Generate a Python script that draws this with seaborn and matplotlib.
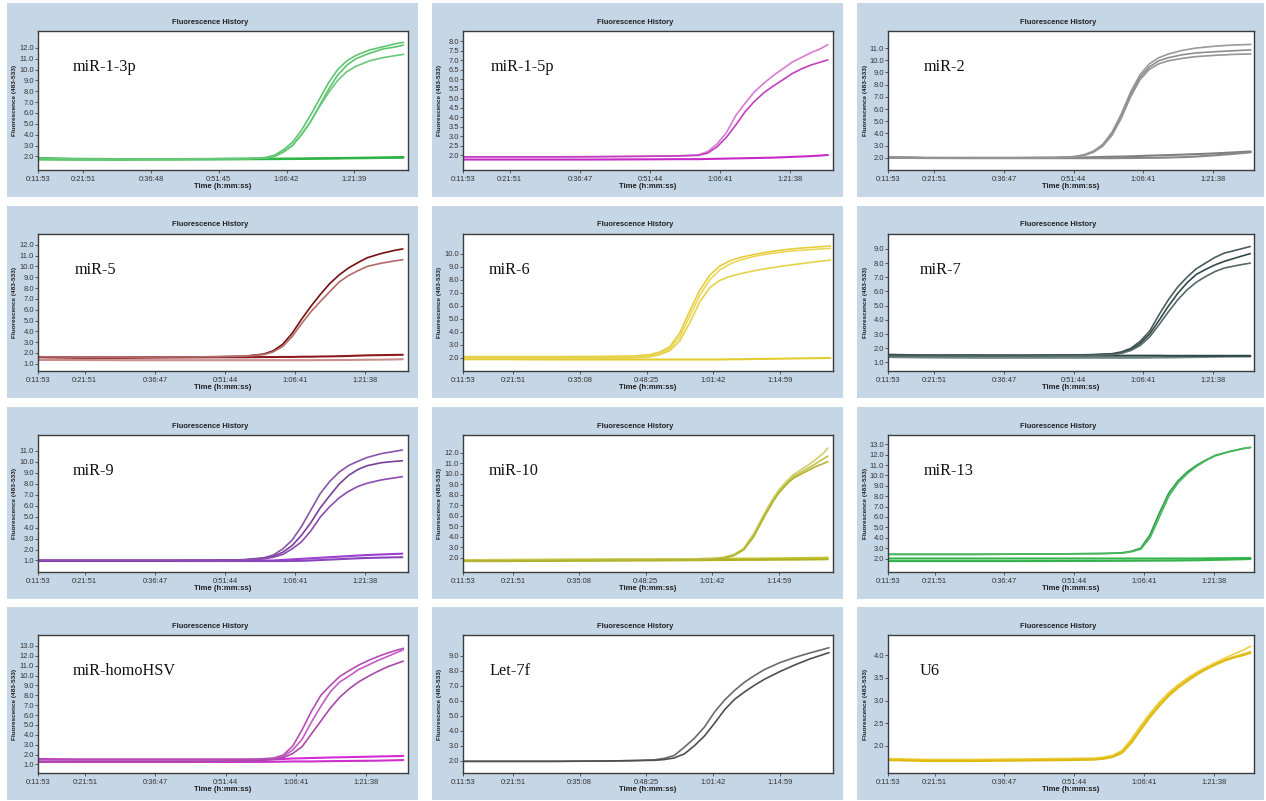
import matplotlib
matplotlib.use("Agg")
import matplotlib.pyplot as plt
from matplotlib.patches import Rectangle
import numpy as np
import pandas as pd
import seaborn as sns

# ---------------------------------------------------------------------------
# Time-axis tick labels (h:mm:ss) of the three LightCycler runs
# ---------------------------------------------------------------------------
TICKS_RUN_A = ["0:11:53", "0:21:51", "0:36:48", "0:51:45", "1:06:42", "1:21:39"]
TICKS_RUN_B = ["0:11:53", "0:21:51", "0:36:47", "0:51:44", "1:06:41", "1:21:38"]
TICKS_RUN_C = ["0:11:53", "0:21:51", "0:35:08", "0:48:25", "1:01:42", "1:14:59"]

# ---------------------------------------------------------------------------
# Fluorescence (483-533) traces; time grids in minutes
# ---------------------------------------------------------------------------
T_MIR1_3P = [11.9, 20, 30, 40, 50, 58, 62, 64, 66, 68, 70, 72, 74, 76, 78, 80, 82, 85, 88, 91, 92.5]
MIR1_3P = [
    [1.8, 1.75, 1.75, 1.76, 1.78, 1.8, 1.9, 2.1, 2.6, 3.3, 4.4, 5.8, 7.3, 8.8, 10.0, 10.8, 11.3, 11.8, 12.1, 12.4, 12.5],
    [1.8, 1.75, 1.75, 1.76, 1.78, 1.8, 1.85, 2.0, 2.4, 3.0, 4.0, 5.2, 6.7, 8.2, 9.5, 10.4, 11.0, 11.5, 11.9, 12.1, 12.25],
    [1.8, 1.75, 1.75, 1.76, 1.78, 1.8, 1.85, 2.0, 2.4, 3.0, 4.0, 5.2, 6.6, 7.9, 9.0, 9.8, 10.3, 10.8, 11.1, 11.3, 11.4],
]
MIR1_3P_NEG = [
    [1.85, 1.78, 1.76, 1.76, 1.77, 1.78, 1.78, 1.79, 1.8, 1.8, 1.81, 1.82, 1.83, 1.84, 1.85, 1.86, 1.87, 1.89, 1.91, 1.93, 1.94],
    [1.72, 1.7, 1.7, 1.71, 1.72, 1.74, 1.75, 1.75, 1.76, 1.76, 1.77, 1.78, 1.79, 1.8, 1.81, 1.82, 1.83, 1.84, 1.86, 1.87, 1.88],
]

T_MIR1_5P = [11.9, 20, 30, 40, 50, 58, 62, 64, 66, 68, 70, 72, 74, 76, 78, 80, 82, 84, 86, 88, 89.6]
MIR1_5P = [
    [1.92, 1.92, 1.92, 1.93, 1.95, 1.98, 2.02, 2.2, 2.6, 3.2, 4.1, 4.75, 5.35, 5.8, 6.2, 6.55, 6.9, 7.15, 7.4, 7.6, 7.82],
    [1.92, 1.92, 1.92, 1.93, 1.95, 1.97, 2.0, 2.12, 2.45, 2.95, 3.6, 4.3, 4.85, 5.3, 5.65, 5.97, 6.3, 6.55, 6.75, 6.9, 7.02],
]
MIR1_5P_NEG = [
    [1.78, 1.78, 1.78, 1.78, 1.79, 1.8, 1.8, 1.81, 1.82, 1.83, 1.84, 1.85, 1.86, 1.87, 1.88, 1.9, 1.92, 1.94, 1.96, 1.99, 2.02],
]

T_MIR2 = [11.9, 20, 30, 40, 48, 52, 54, 56, 58, 60, 62, 64, 66, 68, 70, 72, 75, 78, 82, 86, 89.8]
MIR2 = [
    [2.05, 2.0, 2.0, 2.0, 2.02, 2.1, 2.25, 2.55, 3.1, 4.1, 5.6, 7.4, 8.8, 9.7, 10.2, 10.5, 10.8, 11.0, 11.15, 11.25, 11.3],
    [2.05, 2.0, 2.0, 2.0, 2.02, 2.1, 2.22, 2.5, 3.0, 3.95, 5.4, 7.2, 8.6, 9.45, 9.95, 10.2, 10.45, 10.6, 10.7, 10.78, 10.85],
    [2.05, 2.0, 2.0, 2.0, 2.02, 2.08, 2.2, 2.45, 2.95, 3.85, 5.25, 7.0, 8.4, 9.25, 9.7, 9.95, 10.15, 10.3, 10.4, 10.48, 10.52],
]
MIR2_NEG = [
    [2.05, 2.0, 2.0, 2.0, 2.0, 2.02, 2.03, 2.05, 2.07, 2.09, 2.1, 2.12, 2.15, 2.18, 2.2, 2.22, 2.26, 2.3, 2.36, 2.44, 2.52],
    [2.0, 1.98, 1.97, 1.97, 1.97, 1.97, 1.97, 1.97, 1.97, 1.97, 1.98, 1.98, 1.99, 2.0, 2.0, 2.02, 2.05, 2.1, 2.2, 2.32, 2.45],
]

T_MIR5 = [11.9, 20, 30, 40, 50, 56, 60, 62, 64, 66, 68, 70, 72, 74, 76, 78, 80, 82, 85, 88, 89.6]
MIR5 = [
    [1.65, 1.6, 1.6, 1.62, 1.65, 1.7, 1.9, 2.2, 2.8, 3.8, 5.1, 6.3, 7.4, 8.4, 9.2, 9.85, 10.35, 10.8, 11.2, 11.5, 11.62],
    [1.65, 1.6, 1.6, 1.62, 1.65, 1.7, 1.85, 2.1, 2.6, 3.5, 4.7, 5.8, 6.75, 7.65, 8.55, 9.15, 9.6, 10.0, 10.3, 10.52, 10.62],
]
MIR5_NEG = [
    [1.6, 1.55, 1.55, 1.58, 1.6, 1.6, 1.62, 1.62, 1.63, 1.63, 1.65, 1.65, 1.67, 1.68, 1.7, 1.72, 1.75, 1.78, 1.8, 1.82, 1.83],
    [1.35, 1.35, 1.33, 1.33, 1.33, 1.33, 1.33, 1.33, 1.33, 1.33, 1.33, 1.33, 1.34, 1.34, 1.35, 1.35, 1.36, 1.37, 1.38, 1.4, 1.42],
]

T_MIR6 = [11.9, 20, 30, 40, 46, 49, 51, 53, 55, 57, 59, 61, 63, 65, 67, 70, 73, 76, 79, 82, 85.0]
MIR6 = [
    [2.1, 2.1, 2.1, 2.12, 2.15, 2.25, 2.45, 2.85, 3.9, 5.6, 7.2, 8.35, 9.05, 9.45, 9.7, 9.95, 10.15, 10.3, 10.42, 10.5, 10.58],
    [2.0, 2.0, 2.0, 2.02, 2.05, 2.15, 2.35, 2.7, 3.6, 5.2, 6.8, 8.0, 8.75, 9.2, 9.5, 9.8, 10.0, 10.15, 10.25, 10.33, 10.4],
    [1.95, 1.95, 1.95, 1.97, 2.0, 2.08, 2.25, 2.55, 3.3, 4.7, 6.3, 7.4, 7.95, 8.25, 8.45, 8.7, 8.9, 9.07, 9.22, 9.37, 9.5],
]
MIR6_NEG = [
    [1.9, 1.9, 1.88, 1.88, 1.88, 1.88, 1.88, 1.88, 1.88, 1.88, 1.88, 1.88, 1.88, 1.9, 1.9, 1.92, 1.93, 1.95, 1.97, 1.98, 2.0],
]

T_MIR7 = [11.9, 20, 30, 40, 50, 56, 60, 62, 64, 66, 68, 70, 72, 74, 76, 78, 80, 82, 84, 87, 89.6]
MIR7 = [
    [1.5, 1.5, 1.5, 1.5, 1.52, 1.55, 1.62, 1.75, 2.0, 2.5, 3.2, 4.35, 5.4, 6.3, 7.0, 7.6, 8.0, 8.4, 8.7, 8.95, 9.17],
    [1.5, 1.5, 1.5, 1.5, 1.52, 1.55, 1.6, 1.7, 1.92, 2.35, 3.0, 3.95, 4.95, 5.85, 6.6, 7.2, 7.55, 7.87, 8.12, 8.42, 8.67],
    [1.45, 1.45, 1.45, 1.45, 1.47, 1.5, 1.55, 1.65, 1.85, 2.2, 2.8, 3.65, 4.55, 5.4, 6.1, 6.65, 7.05, 7.4, 7.65, 7.85, 8.0],
]
MIR7_NEG = [
    [1.38, 1.35, 1.33, 1.33, 1.33, 1.33, 1.33, 1.33, 1.33, 1.33, 1.34, 1.35, 1.35, 1.36, 1.37, 1.38, 1.39, 1.4, 1.41, 1.42, 1.42],
    [1.55, 1.5, 1.5, 1.48, 1.48, 1.48, 1.48, 1.48, 1.48, 1.48, 1.48, 1.48, 1.47, 1.47, 1.47, 1.47, 1.47, 1.47, 1.47, 1.47, 1.47],
]

T_MIR9 = [11.9, 20, 30, 40, 50, 56, 60, 62, 64, 66, 68, 70, 72, 74, 76, 78, 80, 82, 85, 88, 89.5]
MIR9 = [
    [1.0, 1.0, 1.0, 1.0, 1.02, 1.08, 1.25, 1.5, 2.05, 2.85, 4.1, 5.6, 7.1, 8.2, 9.05, 9.65, 10.05, 10.4, 10.75, 10.97, 11.08],
    [1.0, 1.0, 1.0, 1.0, 1.02, 1.07, 1.2, 1.38, 1.75, 2.35, 3.3, 4.45, 5.8, 6.9, 7.95, 8.75, 9.3, 9.65, 9.92, 10.05, 10.1],
    [1.0, 1.0, 1.0, 1.0, 1.02, 1.06, 1.15, 1.3, 1.55, 2.05, 2.7, 3.7, 4.95, 5.9, 6.7, 7.3, 7.75, 8.05, 8.35, 8.55, 8.65],
]
MIR9_NEG = [
    [1.0, 1.0, 1.0, 1.0, 1.0, 1.0, 1.0, 1.0, 1.05, 1.1, 1.15, 1.2, 1.25, 1.3, 1.35, 1.4, 1.45, 1.5, 1.55, 1.6, 1.62],
    [0.95, 0.95, 0.95, 0.95, 0.95, 0.95, 0.95, 0.95, 0.95, 0.96, 0.97, 1.0, 1.04, 1.08, 1.12, 1.16, 1.2, 1.23, 1.26, 1.29, 1.3],
]

T_MIR10 = [11.9, 20, 30, 40, 50, 58, 62, 64, 66, 68, 70, 71, 72, 73, 74, 75, 76, 77, 78, 80, 82, 84, 84.8]
MIR10 = [
    [1.8, 1.8, 1.82, 1.85, 1.85, 1.88, 1.95, 2.05, 2.3, 2.9, 4.3, 5.2, 6.1, 6.95, 7.75, 8.45, 9.0, 9.5, 9.95, 10.55, 11.2, 12.0, 12.45],
    [1.75, 1.75, 1.78, 1.8, 1.82, 1.85, 1.9, 2.0, 2.25, 2.8, 4.1, 5.0, 5.9, 6.75, 7.55, 8.25, 8.8, 9.3, 9.75, 10.3, 10.85, 11.45, 11.68],
    [1.7, 1.7, 1.72, 1.75, 1.78, 1.8, 1.85, 1.95, 2.2, 2.75, 4.0, 4.9, 5.8, 6.65, 7.45, 8.15, 8.7, 9.2, 9.6, 10.1, 10.6, 11.0, 11.15],
]
MIR10_NEG = [
    [1.78, 1.8, 1.82, 1.84, 1.86, 1.88, 1.9, 1.9, 1.91, 1.92, 1.92, 1.93, 1.93, 1.94, 1.94, 1.95, 1.95, 1.96, 1.96, 1.98, 1.99, 2.0, 2.02],
    [1.68, 1.68, 1.7, 1.72, 1.74, 1.76, 1.78, 1.78, 1.79, 1.8, 1.8, 1.8, 1.8, 1.81, 1.81, 1.81, 1.82, 1.82, 1.82, 1.83, 1.84, 1.85, 1.86],
]

T_MIR13 = [11.9, 20, 30, 40, 50, 58, 62, 64, 66, 68, 70, 72, 74, 76, 78, 80, 82, 85, 88, 89.5]
MIR13 = [
    [2.4, 2.4, 2.4, 2.42, 2.45, 2.48, 2.55, 2.7, 3.0, 4.3, 6.4, 8.3, 9.5, 10.35, 11.0, 11.5, 11.95, 12.3, 12.6, 12.7],
    [2.4, 2.4, 2.4, 2.42, 2.45, 2.48, 2.52, 2.65, 2.9, 4.0, 6.0, 8.0, 9.3, 10.2, 10.9, 11.45, 11.9, 12.3, 12.6, 12.7],
]
MIR13_NEG = [
    [2.0, 2.0, 2.0, 2.0, 2.0, 2.0, 2.0, 2.0, 2.0, 2.0, 2.0, 2.0, 2.0, 2.0, 2.0, 2.01, 2.02, 2.03, 2.04, 2.05],
    [1.75, 1.75, 1.75, 1.75, 1.76, 1.77, 1.78, 1.78, 1.79, 1.79, 1.8, 1.8, 1.81, 1.82, 1.83, 1.85, 1.87, 1.9, 1.93, 1.95],
]

T_MIRHSV = [11.9, 20, 30, 40, 50, 58, 62, 64, 66, 68, 70, 72, 74, 76, 78, 80, 82, 84, 86, 88, 89.5]
MIRHSV = [
    [1.5, 1.5, 1.5, 1.5, 1.5, 1.52, 1.65, 1.95, 2.85, 4.5, 6.4, 8.0, 9.0, 9.9, 10.5, 11.05, 11.5, 11.9, 12.25, 12.55, 12.75],
    [1.3, 1.3, 1.3, 1.3, 1.32, 1.38, 1.55, 1.85, 2.45, 3.55, 5.3, 6.9, 8.35, 9.35, 9.95, 10.6, 11.05, 11.5, 11.9, 12.3, 12.6],
    [1.3, 1.3, 1.3, 1.3, 1.32, 1.38, 1.5, 1.7, 2.1, 2.8, 4.1, 5.4, 6.7, 7.8, 8.65, 9.35, 9.9, 10.4, 10.85, 11.2, 11.45],
]
MIRHSV_NEG = [
    [1.55, 1.5, 1.5, 1.5, 1.5, 1.5, 1.52, 1.55, 1.6, 1.62, 1.65, 1.67, 1.7, 1.72, 1.74, 1.76, 1.78, 1.8, 1.82, 1.84, 1.86],
    [1.25, 1.25, 1.25, 1.25, 1.25, 1.25, 1.27, 1.28, 1.3, 1.3, 1.3, 1.32, 1.33, 1.34, 1.35, 1.36, 1.37, 1.38, 1.4, 1.42, 1.44],
]

T_LET7F = [11.9, 20, 30, 40, 46, 50, 52, 54, 56, 58, 60, 62, 64, 66, 68, 70, 72, 75, 78, 81, 83, 84.8]
LET7F = [
    [1.95, 1.95, 1.95, 1.97, 2.0, 2.05, 2.15, 2.35, 2.9, 3.5, 4.25, 5.25, 6.05, 6.7, 7.25, 7.7, 8.1, 8.55, 8.9, 9.2, 9.38, 9.55],
    [1.95, 1.95, 1.95, 1.97, 2.0, 2.02, 2.07, 2.18, 2.45, 3.0, 3.65, 4.5, 5.4, 6.1, 6.6, 7.05, 7.45, 7.95, 8.4, 8.8, 9.02, 9.22],
]
LET7F_NEG = []

T_U6 = [11.9, 20, 30, 40, 50, 56, 58, 60, 62, 64, 66, 68, 70, 72, 74, 76, 78, 80, 82, 84, 86, 88, 89.5]
U6 = [
    [1.72, 1.7, 1.7, 1.71, 1.72, 1.73, 1.75, 1.79, 1.9, 2.15, 2.45, 2.72, 2.97, 3.18, 3.35, 3.5, 3.63, 3.74, 3.84, 3.94, 4.03, 4.12, 4.2],
    [1.7, 1.68, 1.68, 1.69, 1.7, 1.71, 1.73, 1.77, 1.87, 2.1, 2.4, 2.68, 2.93, 3.14, 3.32, 3.47, 3.6, 3.71, 3.81, 3.9, 3.97, 4.03, 4.08],
    [1.68, 1.66, 1.66, 1.67, 1.68, 1.69, 1.71, 1.75, 1.84, 2.06, 2.35, 2.63, 2.88, 3.1, 3.28, 3.43, 3.57, 3.69, 3.79, 3.88, 3.95, 4.0, 4.05],
]
U6_NEG = []

# ---------------------------------------------------------------------------
# Panel configuration: labels, axis ranges and trace colours
# ---------------------------------------------------------------------------
PANELS = [
    dict(label="miR-1-3p", t=T_MIR1_3P, amp=MIR1_3P, neg=MIR1_3P_NEG,
         amp_colors=["#5ec470", "#5cc46e", "#67c978"], neg_colors=["#23ad3a", "#2fb447"],
         ticks=TICKS_RUN_A, xend=93.5, ylim=(0.75, 13.55), yt=(2.0, 12.0, 1.0)),
    dict(label="miR-1-5p", t=T_MIR1_5P, amp=MIR1_5P, neg=MIR1_5P_NEG,
         amp_colors=["#d77bd4", "#c23fbf"], neg_colors=["#c828c8"],
         ticks=TICKS_RUN_B, xend=90.7, ylim=(1.23, 8.54), yt=(2.0, 8.0, 0.5)),
    dict(label="miR-2", t=T_MIR2, amp=MIR2, neg=MIR2_NEG,
         amp_colors=["#9a9a9a", "#8e8e8e", "#959595"], neg_colors=["#7f7f7f", "#888888"],
         ticks=TICKS_RUN_B, xend=90.5, ylim=(1.0, 12.4), yt=(2.0, 11.0, 1.0)),
    dict(label="miR-5", t=T_MIR5, amp=MIR5, neg=MIR5_NEG,
         amp_colors=["#74100f", "#b56a6a"], neg_colors=["#8e1b1b", "#c98e8e"],
         ticks=TICKS_RUN_B, xend=90.7, ylim=(0.33, 13.0), yt=(1.0, 12.0, 1.0)),
    dict(label="miR-6", t=T_MIR6, amp=MIR6, neg=MIR6_NEG,
         amp_colors=["#e4cf3a", "#ead65a", "#e6d24a"], neg_colors=["#e2cc30"],
         ticks=TICKS_RUN_C, xend=85.5, ylim=(1.0, 11.5), yt=(2.0, 10.0, 1.0)),
    dict(label="miR-7", t=T_MIR7, amp=MIR7, neg=MIR7_NEG,
         amp_colors=["#4a5c5c", "#334848", "#566868"], neg_colors=["#6f8a86", "#2f4747"],
         ticks=TICKS_RUN_B, xend=90.4, ylim=(0.4, 10.05), yt=(1.0, 9.0, 1.0)),
    dict(label="miR-9", t=T_MIR9, amp=MIR9, neg=MIR9_NEG,
         amp_colors=["#8a55a8", "#7a3f99", "#8d4bb3"], neg_colors=["#9a3fd0", "#8a44c0"],
         ticks=TICKS_RUN_B, xend=90.7, ylim=(-0.05, 12.45), yt=(1.0, 11.0, 1.0)),
    dict(label="miR-10", t=T_MIR10, amp=MIR10, neg=MIR10_NEG,
         amp_colors=["#cfcf6a", "#c2c24a", "#b3b332"], neg_colors=["#c4c434", "#b0b020"],
         ticks=TICKS_RUN_C, xend=85.85, ylim=(0.64, 13.7), yt=(2.0, 12.0, 1.0)),
    dict(label="miR-13", t=T_MIR13, amp=MIR13, neg=MIR13_NEG,
         amp_colors=["#2f9e48", "#49b85c"], neg_colors=["#2fb64a", "#35b24c"],
         ticks=TICKS_RUN_B, xend=90.25, ylim=(0.7, 13.9), yt=(2.0, 13.0, 1.0)),
    dict(label="miR-homoHSV", t=T_MIRHSV, amp=MIRHSV, neg=MIRHSV_NEG,
         amp_colors=["#b34db3", "#c45ac4", "#a84aa8"], neg_colors=["#d62ad6", "#cc30cc"],
         ticks=TICKS_RUN_B, xend=90.5, ylim=(0.13, 14.1), yt=(1.0, 13.0, 1.0)),
    dict(label="Let-7f", t=T_LET7F, amp=LET7F, neg=LET7F_NEG,
         amp_colors=["#6a6a6a", "#4f4f4f"], neg_colors=[],
         ticks=TICKS_RUN_C, xend=85.6, ylim=(1.17, 10.4), yt=(2.0, 9.0, 1.0)),
    dict(label="U6", t=T_U6, amp=U6, neg=U6_NEG,
         amp_colors=["#efd24a", "#e6c21c", "#ddb812"], neg_colors=[],
         ticks=TICKS_RUN_B, xend=90.25, ylim=(1.4, 4.45), yt=(2.0, 4.0, 0.5)),
]

# ---------------------------------------------------------------------------
# Layout (pixels)
# ---------------------------------------------------------------------------
W, H = 1266, 801
COL_X = [7, 432, 857]
COL_W = [411, 411, 407]
ROW_Y = [3, 206, 407, 607]
ROW_H = [194, 192, 192, 193]
LABEL_DX = [35, 28, 36, 37, 26, 32, 35, 26, 36, 35, 26, 32]
PANEL_BG = "#c5d6e6"
SMALL_FONT = ["Liberation Sans Narrow", "Liberation Sans", "DejaVu Sans"]

sns.set_theme(style="white")
plt.rcParams["font.family"] = SMALL_FONT


def hms_to_min(s):
    h, m, sec = (int(p) for p in s.split(":"))
    return h * 60 + m + sec / 60.0


def frac_rect(x, y, w, h):
    return [x / W, 1 - (y + h) / H, w / W, h / H]


fig = plt.figure(figsize=(W / 100, H / 100), dpi=100)
fig.patch.set_facecolor("white")

for i, p in enumerate(PANELS):
    r, c = divmod(i, 3)
    px, py, pw, ph = COL_X[c], ROW_Y[r], COL_W[c], ROW_H[r]

    # panel background
    fig.add_artist(Rectangle((px / W, 1 - (py + ph) / H), pw / W, ph / H,
                             transform=fig.transFigure, facecolor=PANEL_BG,
                             edgecolor="none", zorder=0))

    ax_x, ax_y = px + 31, py + 28
    ax_w, ax_h = pw - 41, ph - 55
    ax = fig.add_axes(frac_rect(ax_x, ax_y, ax_w, ax_h))
    ax.set_facecolor("white")
    ax.set_zorder(2)

    # long-form table of all traces of this panel
    rows = []
    for k, curve in enumerate(p["neg"]):
        rows += [(t, v, f"neg{k}") for t, v in zip(p["t"], curve)]
    for k, curve in enumerate(p["amp"]):
        rows += [(t, v, f"amp{k}") for t, v in zip(p["t"], curve)]
    df = pd.DataFrame(rows, columns=["time", "fluor", "trace"])

    for k, col in enumerate(p["neg_colors"]):
        sns.lineplot(data=df[df["trace"] == f"neg{k}"], x="time", y="fluor",
                     color=col, linewidth=1.5, estimator=None, sort=False,
                     legend=False, ax=ax)
    for k, col in enumerate(p["amp_colors"]):
        sns.lineplot(data=df[df["trace"] == f"amp{k}"], x="time", y="fluor",
                     color=col, linewidth=1.2, estimator=None, sort=False,
                     legend=False, ax=ax)

    # axes ranges and ticks
    x0 = hms_to_min(p["ticks"][0])
    ax.set_xlim(x0, p["xend"])
    ax.set_ylim(*p["ylim"])
    ax.set_xticks([hms_to_min(s) for s in p["ticks"]])
    ax.set_xticklabels(p["ticks"])
    lo, hi, step = p["yt"]
    yt = np.arange(lo, hi + step / 2, step)
    ax.set_yticks(yt)
    ax.set_yticklabels([f"{v:.1f}" for v in yt])
    ax.tick_params(axis="both", direction="out", length=2.0, width=0.6,
                   color="#444444", labelsize=5.4, labelcolor="#333333", pad=1.0,
                   bottom=True, left=True)
    ax.tick_params(axis="x", pad=2.0)
    for sp in ax.spines.values():
        sp.set_visible(True)
        sp.set_color("#3c3c3c")
        sp.set_linewidth(1.0)

    ax.set_xlabel("Time (h:mm:ss)", fontsize=5.6, fontweight="bold",
                  color="#222222", labelpad=0.5)
    ax.set_ylabel("")

    # panel title, y-axis caption and assay name
    fig.text((px + pw / 2 - 2) / W, 1 - (py + 19) / H, "Fluorescence History",
             ha="center", va="center", fontsize=5.4, fontweight="bold",
             color="#222222", family=["Liberation Sans", "DejaVu Sans"])
    fig.text((px + 8) / W, 1 - (ax_y + ax_h / 2) / H, "Fluorescence (483-533)",
             ha="center", va="center", rotation=90, fontsize=4.6,
             fontweight="bold", color="#222222",
             family=["Liberation Sans", "DejaVu Sans"])
    fig.text((ax_x + LABEL_DX[i]) / W, 1 - (ax_y + 36) / H, p["label"],
             ha="left", va="center", fontsize=11.7, color="#111111",
             family=["Liberation Serif", "DejaVu Serif"])

fig.savefig("out.png", dpi=100, facecolor="white")
